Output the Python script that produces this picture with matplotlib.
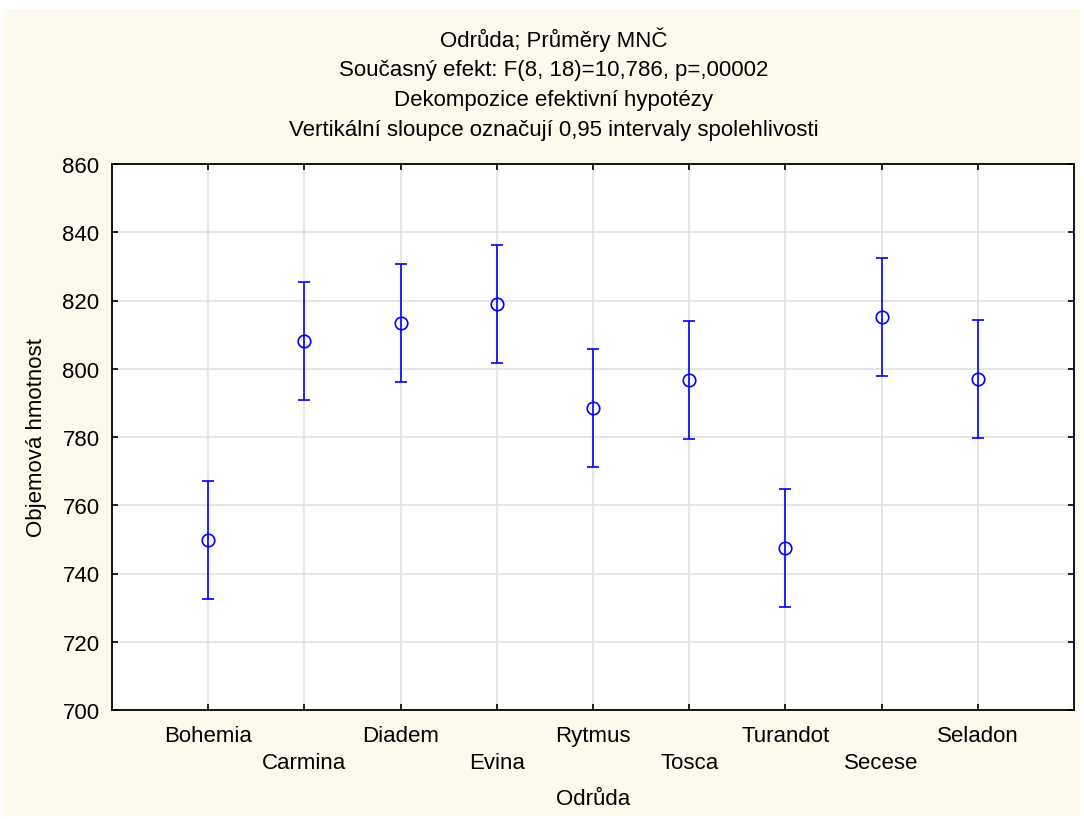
import numpy as np
import matplotlib.pyplot as plt
from matplotlib.patches import Rectangle

plt.rcParams['font.family'] = ['Liberation Sans', 'DejaVu Sans']

# Průměry MNČ a polovina 0,95 intervalu spolehlivosti
odrudy = ['Bohemia', 'Carmina', 'Diadem', 'Evina', 'Rytmus',
          'Tosca', 'Turandot', 'Secese', 'Seladon']
prumery = [749.7, 808.2, 813.4, 819.1, 788.4, 796.7, 747.4, 815.1, 797.1]
ci_pul = [17.3, 17.3, 17.3, 17.3, 17.3, 17.3, 17.3, 17.3, 17.3]

titulky = ['Odrůda; Průměry MNČ',
           'Současný efekt: F(8, 18)=10,786, p=,00002',
           'Dekompozice efektivní hypotézy',
           'Vertikální sloupce označují 0,95 intervaly spolehlivosti']

fs = 16

fig = plt.figure(figsize=(10.84, 8.2), dpi=100, facecolor='white')
fig.patches.append(Rectangle((3 / 1084, 1 - 817 / 820), 1077 / 1084, 807 / 820,
                             transform=fig.transFigure, facecolor='#fdf9ed',
                             edgecolor='none', zorder=-10))

ax = fig.add_axes([112 / 1084, 1 - 711 / 820, 962 / 1084, 546 / 820])
ax.set_facecolor('white')

x = np.arange(1, len(odrudy) + 1)
ax.errorbar(x, prumery, yerr=ci_pul, fmt='o', color='#0000ff', mfc='none',
            mec='#0000ff', ms=9, mew=1.2, elinewidth=1.2, capsize=4,
            capthick=1.2, zorder=3)

ax.set_xlim(0, len(odrudy) + 1)
ax.set_ylim(700, 860)
ax.set_yticks(np.arange(700, 861, 20))
ax.set_xticks(x)
ax.set_xticklabels(odrudy)
ax.grid(True, color='#e2e2e2', linewidth=1.2)
ax.set_axisbelow(True)

ax.tick_params(direction='in', length=4, width=1.2, top=True, right=True,
               labelsize=fs, colors='black')
ax.tick_params(axis='y', pad=9)
# popisky se střídají ve dvou řádcích
for i, t in enumerate(ax.xaxis.get_major_ticks()):
    t.set_pad(11 if i % 2 == 0 else 30.5)
for s in ax.spines.values():
    s.set_linewidth(1.3)
    s.set_color('black')

ax.set_ylabel('Objemová hmotnost', fontsize=fs, labelpad=11)
fig.text(0.5 * (112 + 1074) / 1084, 1 - 800 / 820, 'Odrůda', fontsize=fs,
         ha='center', va='center')

for k, t in enumerate(titulky):
    fig.text(554 / 1084, 1 - (40 + 30.3 * k) / 820, t,
             fontsize=fs, ha='center', va='center')

fig.savefig('out.png', dpi=100, facecolor=fig.get_facecolor())
